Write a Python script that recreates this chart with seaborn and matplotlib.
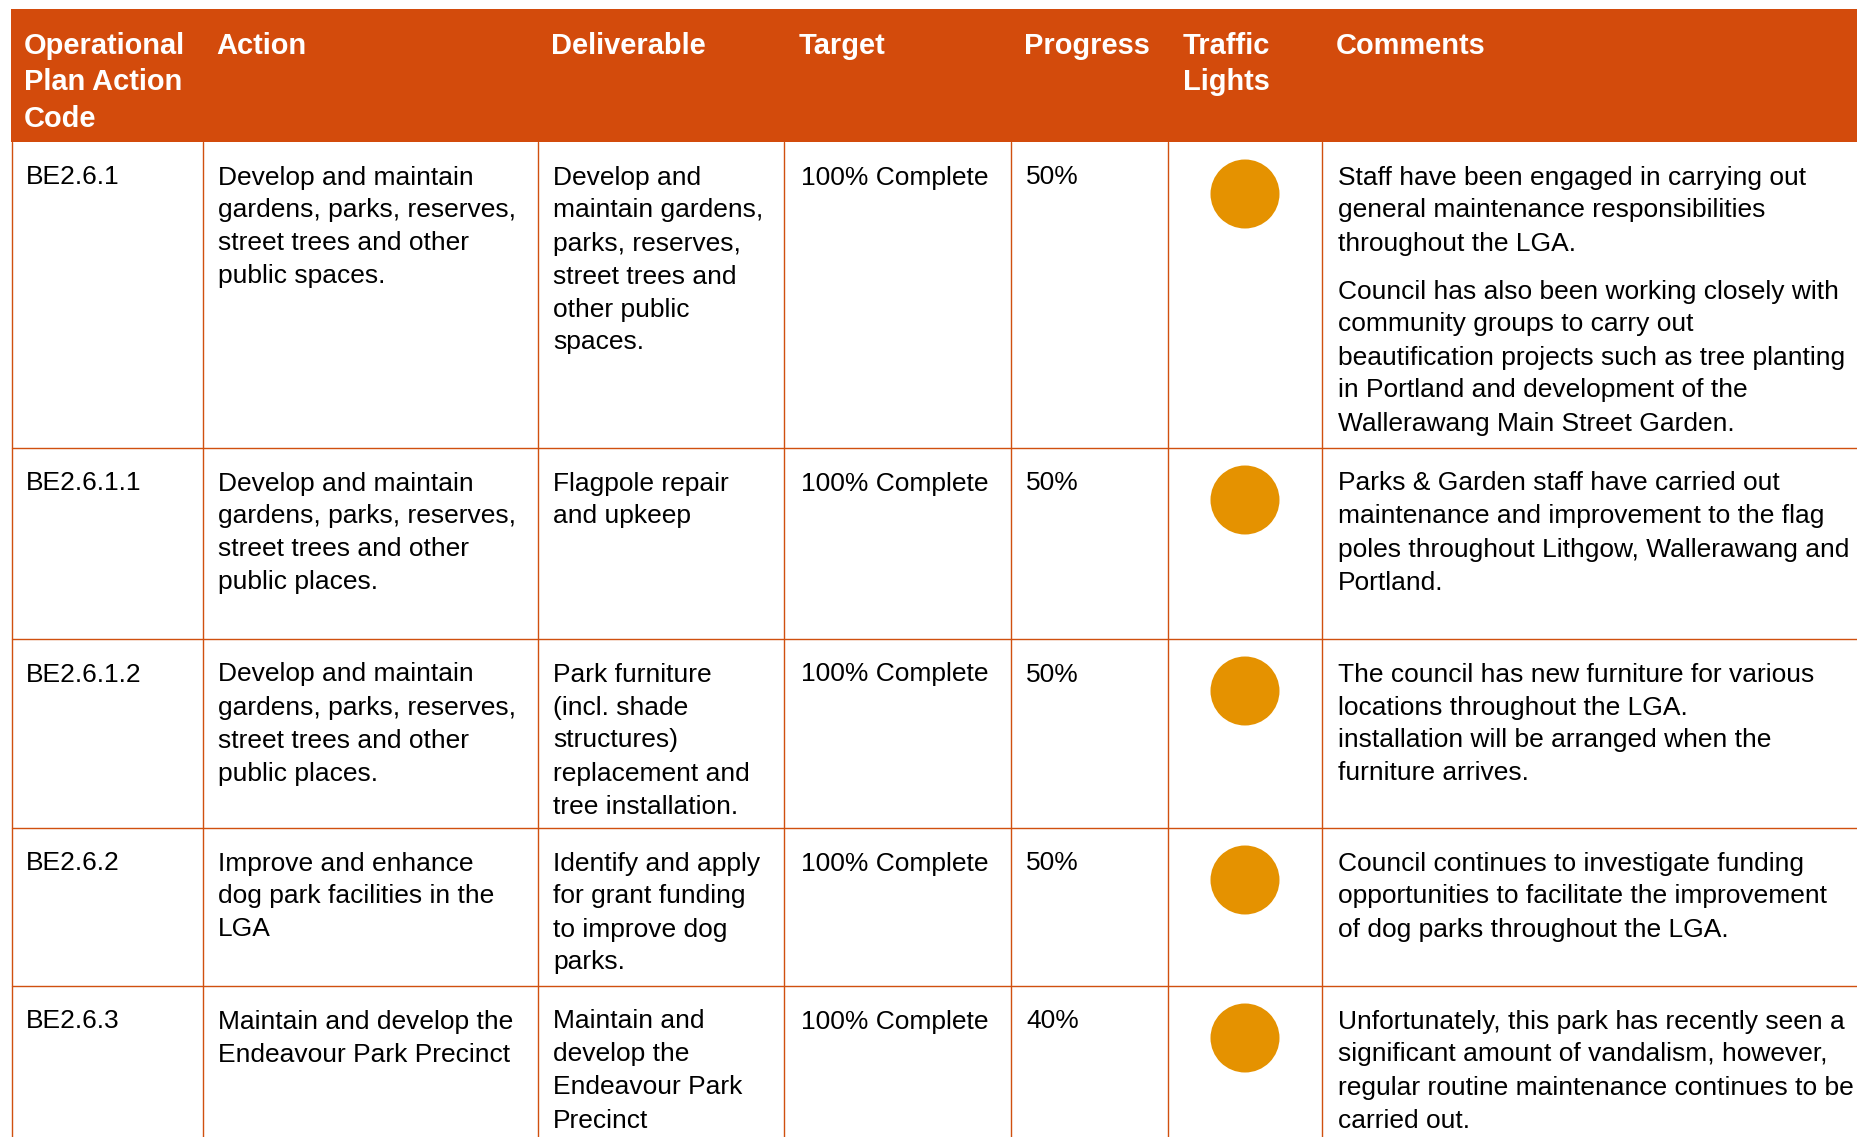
import matplotlib
matplotlib.use("Agg")
import matplotlib.pyplot as plt
import seaborn as sns
import pandas as pd

# ---------------- data ----------------
headers = [["Operational", "Plan Action", "Code"], ["Action"], ["Deliverable"], ["Target"],
           ["Progress"], ["Traffic", "Lights"], ["Comments"]]

codes = ["BE2.6.1", "BE2.6.1.1", "BE2.6.1.2", "BE2.6.2", "BE2.6.3"]

actions = [
    ["Develop and maintain", "gardens, parks, reserves,", "street trees and other", "public spaces."],
    ["Develop and maintain", "gardens, parks, reserves,", "street trees and other", "public places."],
    ["Develop and maintain", "gardens, parks, reserves,", "street trees and other", "public places."],
    ["Improve and enhance", "dog park facilities in the", "LGA"],
    ["Maintain and develop the", "Endeavour Park Precinct"],
]

deliverables = [
    ["Develop and", "maintain gardens,", "parks, reserves,", "street trees and", "other public", "spaces."],
    ["Flagpole repair", "and upkeep"],
    ["Park furniture", "(incl. shade", "structures)", "replacement and", "tree installation."],
    ["Identify and apply", "for grant funding", "to improve dog", "parks."],
    ["Maintain and", "develop the", "Endeavour Park", "Precinct"],
]

targets = ["100% Complete"] * 5
progress = [50, 50, 50, 50, 40]
lights = ["Amber", "Amber", "Amber", "Amber", "Amber"]

comments = [
    [["Staff have been engaged in carrying out", "general maintenance responsibilities",
      "throughout the LGA."],
     ["Council has also been working closely with", "community groups to carry out",
      "beautification projects such as tree planting", "in Portland and development of the",
      "Wallerawang Main Street Garden."]],
    [["Parks & Garden staff have carried out", "maintenance and improvement to the flag",
      "poles throughout Lithgow, Wallerawang and", "Portland."]],
    [["The council has new furniture for various", "locations throughout the LGA.",
      "installation will be arranged when the", "furniture arrives."]],
    [["Council continues to investigate funding", "opportunities to facilitate the improvement",
      "of dog parks throughout the LGA."]],
    [["Unfortunately, this park has recently seen a", "significant amount of vandalism, however,",
      "regular routine maintenance continues to be", "carried out."]],
]

# ---------------- layout (pixels) ----------------
W, H = 1858, 1137
col_edges = [12, 203, 538, 784, 1011, 1168, 1322, W]
text_x = [26, 218, 553, 801, 1026, 1185, 1338]
header_top, header_bot = 9, 142
row_tops = [142, 448, 639, 828, 986]
body_fs_px = 26.4
head_fs_px = 29
line_h = 33.0
head_line_h = 36.7
para_gap = 15.0

ORANGE = "#D34B0C"
LINE = "#D0500F"
AMBER = "#E59200"

sns.set_theme(style="white")
plt.rcParams["font.family"] = ["Liberation Sans", "DejaVu Sans"]

fig = plt.figure(figsize=(W / 100, H / 100), dpi=100)
ax = fig.add_axes([0, 0, 1, 1])
ax.set_xlim(0, W)
ax.set_ylim(H, 0)
ax.axis("off")

px2pt = 72 / 100
bfs = body_fs_px * px2pt
hfs = head_fs_px * px2pt

# header band
ax.add_patch(plt.Rectangle((col_edges[0] - 1, header_top), W - col_edges[0] + 1,
                           header_bot - header_top, color=ORANGE, lw=0, zorder=1))
for j, lines in enumerate(headers):
    for k, ln in enumerate(lines):
        ax.text(text_x[j] - 2, 53.5 + k * head_line_h, ln, color="white", fontsize=hfs,
                fontweight="bold", va="baseline", ha="left", zorder=3)

# grid lines
for x in col_edges[:-1]:
    ax.plot([x, x], [header_bot, H], color=LINE, lw=1.0, zorder=2)
for y in row_tops[1:]:
    ax.plot([col_edges[0], W], [y, y], color=LINE, lw=1.0, zorder=2)

# body text
def put_lines(x, y0, lines):
    for k, ln in enumerate(lines):
        ax.text(x, y0 + k * line_h, ln, color="black", fontsize=bfs,
                va="baseline", ha="left", zorder=3)

for i in range(len(codes)):
    base = row_tops[i] + 42.5
    put_lines(text_x[0], base, [codes[i]])
    put_lines(text_x[1], base, actions[i])
    put_lines(text_x[2], base, deliverables[i])
    put_lines(text_x[3], base, [targets[i]])
    put_lines(text_x[4], base, [f"{progress[i]}%"])
    y = base
    for p in comments[i]:
        put_lines(text_x[6], y, p)
        y += len(p) * line_h + para_gap

# traffic lights
df = pd.DataFrame({
    "x": [(col_edges[5] + col_edges[6]) / 2] * len(codes),
    "y": [t + 52 for t in row_tops],
    "light": lights,
})
sns.scatterplot(data=df, x="x", y="y", hue="light", palette={"Amber": AMBER},
                s=(69 * px2pt) ** 2, linewidth=0, legend=False, ax=ax, zorder=4)
ax.set_xlim(0, W)
ax.set_ylim(H, 0)
ax.axis("off")

fig.savefig("out.png", dpi=100)
